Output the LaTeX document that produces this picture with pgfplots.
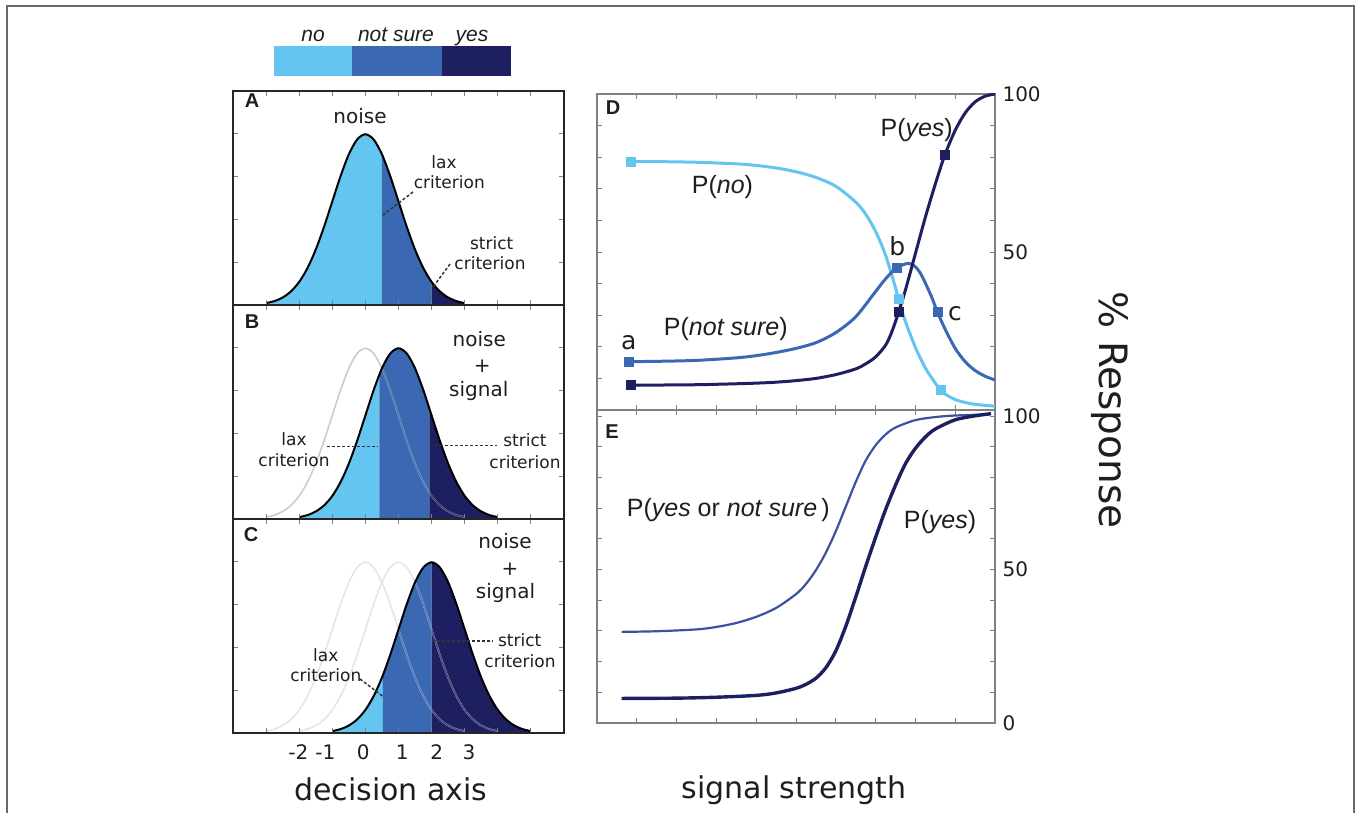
\documentclass[border=0pt]{standalone}
\usepackage{fontspec}
\setmainfont{DejaVu Sans}
\newfontfamily\helv{Liberation Sans}
\usepackage{pgfplots}
\usepackage{pgfplotstable}
\pgfplotsset{compat=1.18}
\usepgfplotslibrary{fillbetween}

\definecolor{cno}{RGB}{100,197,240}
\definecolor{cns}{RGB}{58,104,178}
\definecolor{cyes}{RGB}{30,31,96}
\definecolor{cmidE}{RGB}{62,80,160}
\definecolor{framec}{RGB}{105,105,105}
\definecolor{txt}{RGB}{30,30,30}
\newcommand\fs[1]{\fontsize{#1}{#1}\selectfont}

% standard normal density (x in decision units)
\pgfplotstableread{
x y
-3.00 0.00443
-2.75 0.00909
-2.50 0.01753
-2.25 0.03174
-2.00 0.05399
-1.75 0.08628
-1.50 0.12952
-1.25 0.18265
-1.00 0.24197
-0.75 0.30114
-0.50 0.35207
-0.25 0.38667
0.00 0.39894
0.25 0.38667
0.50 0.35207
0.75 0.30114
1.00 0.24197
1.25 0.18265
1.50 0.12952
1.75 0.08628
2.00 0.05399
2.25 0.03174
2.50 0.01753
2.75 0.00909
3.00 0.00443
}\gauss

\pgfplotstableread{
x y
0.85 78.6
1.5 78.6
2.5 78.4
3.5 77.9
4.0 77.4
4.5 76.6
5.0 75.4
5.5 73.6
6.0 70.8
6.5 65.8
6.75 62
7.0 56.5
7.25 49
7.5 38.7
7.57 35.3
7.75 28
8.0 19.8
8.25 13.3
8.5 8.5
8.63 6.3
8.75 5.0
9.0 3.3
9.25 2.4
9.5 1.8
10 1.2
}\Dno

\pgfplotstableread{
x y
0.79 15.3
1.5 15.4
2.5 15.7
3.5 16.5
4.0 17.2
4.5 18.2
5.0 19.5
5.5 21.3
6.0 24.5
6.5 29.5
7.0 37.5
7.25 41.5
7.53 45
7.8 46.4
7.9 46.2
8.0 45.3
8.1 43.8
8.2 41.5
8.4 36
8.55 31.1
8.75 25.5
9.0 19.5
9.25 15.3
9.5 12.5
9.75 10.7
10 9.5
}\Dns

\pgfplotstableread{
x y
0.85 7.9
1.5 7.9
2.5 8.0
3.5 8.3
4.0 8.5
4.5 8.8
5.0 9.3
5.5 10.0
6.0 11.2
6.5 13.0
6.75 14.6
7.0 16.8
7.25 20.5
7.4 24.5
7.58 31
7.75 38
8.0 49.5
8.25 61
8.5 71.5
8.74 80.7
9.0 88.5
9.25 94
9.5 97.5
9.75 99.3
10 100
}\Dyes

\pgfplotstableread{
x y
0.62 29.7
1.5 29.9
2.5 30.5
3.0 31.3
3.5 32.6
4.0 34.6
4.5 37.5
5.0 42
5.25 45.3
5.5 49.8
5.75 55.5
6.0 62.5
6.25 70.5
6.5 78.5
6.75 85.5
7.0 90.5
7.25 94
7.5 96.3
8.0 98.7
8.5 99.7
9.0 100.2
9.87 100.6
}\Eyn

\pgfplotstableread{
x y
0.62 8.0
2 8.1
3 8.4
4 9.0
4.5 9.8
5.0 11.3
5.25 12.6
5.5 14.6
5.75 18
6.0 23.5
6.25 31.5
6.5 41
6.75 51
7.0 60.5
7.25 69.5
7.5 77.5
7.75 84.5
8.0 89.5
8.25 93.2
8.5 95.8
9.0 98.8
9.5 100.1
9.9 100.8
}\Eyes

\pgfplotsset{
  gpanel/.style={anchor=south west, scale only axis, width=331pt, height=214pt,
    xmin=-4, xmax=6, ymin=0, ymax=0.5,
    xtick={-3,...,5}, ytick={0.1,0.2,0.3,0.4},
    xticklabels={}, yticklabels={},
    tick align=inside, major tick length=5pt,
    tick style={black!50, line width=0.9pt},
    axis line style={black!85, line width=1.6pt},
    axis on top},
  rpanel/.style={anchor=south west, scale only axis, width=398pt,
    xmin=0, xmax=10, ymin=0,
    xtick={1,...,9}, xticklabels={},
    yticklabel pos=right, ytick pos=both, xtick pos=both,
    tick align=inside, major tick length=5pt,
    tick style={black!50, line width=0.9pt},
    axis line style={black!50, line width=1.3pt},
    /pgf/number format/assume math mode=true,
    yticklabel style={font=\fs{20}, text=txt, xshift=4pt}},
}

\begin{document}
\begin{tikzpicture}
\begin{scope}[x=1pt,y=-1pt]
\path[use as bounding box] (0,0) rectangle (1360,813);
\draw[framec, line width=2.5pt] (7,813) -- (7,6) -- (1354,6) -- (1354,813);
\end{scope}

% ---------- Panel A ----------
\begin{axis}[gpanel, at={(233pt,-305pt)}]
\addplot[draw=none, smooth, name path=g] table[x=x,y=y]{\gauss};
\addplot[draw=none, name path=b] coordinates {(-3,0) (3,0)};
\addplot[fill=cno, draw=none] fill between[of=g and b, soft clip={domain=-4:0.5}];
\addplot[fill=cns, draw=none] fill between[of=g and b, soft clip={domain=0.5:2.0}];
\addplot[fill=cyes, draw=none] fill between[of=g and b, soft clip={domain=2.0:6}];
\addplot[black, line width=2pt, smooth] table[x=x,y=y]{\gauss};
\end{axis}

% ---------- Panel B ----------
\begin{axis}[gpanel, at={(233pt,-519pt)}]
\addplot[gray!40, line width=1.6pt, smooth] table[x=x,y=y]{\gauss};
\addplot[draw=none, smooth, name path=g] table[x expr=\thisrow{x}+1,y=y]{\gauss};
\addplot[draw=none, name path=b] coordinates {(-2,0) (4,0)};
\addplot[fill=cno, draw=none] fill between[of=g and b, soft clip={domain=-4:0.42}];
\addplot[fill=cns, draw=none] fill between[of=g and b, soft clip={domain=0.42:1.93}];
\addplot[fill=cyes, draw=none] fill between[of=g and b, soft clip={domain=1.93:6}];
\begin{scope}
\clip (axis cs:0.5,0) rectangle (axis cs:1.93,0.5);
\addplot[cns!88!white, line width=1.4pt, smooth] table[x=x,y=y]{\gauss};
\end{scope}
\begin{scope}
\clip (axis cs:1.93,0) rectangle (axis cs:6,0.5);
\addplot[cyes!85!white, line width=1.4pt, smooth] table[x=x,y=y]{\gauss};
\end{scope}
\addplot[black, line width=2pt, smooth] table[x expr=\thisrow{x}+1,y=y]{\gauss};
\end{axis}

% ---------- Panel C ----------
\begin{axis}[gpanel, at={(233pt,-733pt)}]
\addplot[gray!20, line width=1.6pt, smooth] table[x=x,y=y]{\gauss};
\addplot[gray!20, line width=1.6pt, smooth] table[x expr=\thisrow{x}+1,y=y]{\gauss};
\addplot[draw=none, smooth, name path=g] table[x expr=\thisrow{x}+2,y=y]{\gauss};
\addplot[draw=none, name path=b] coordinates {(-1,0) (5,0)};
\addplot[fill=cno, draw=none] fill between[of=g and b, soft clip={domain=-4:0.53}];
\addplot[fill=cns, draw=none] fill between[of=g and b, soft clip={domain=0.53:2.0}];
\addplot[fill=cyes, draw=none] fill between[of=g and b, soft clip={domain=2.0:6}];
\begin{scope}
\clip (axis cs:1.0,0) rectangle (axis cs:2.0,0.5);
\addplot[cns!88!white, line width=1.4pt, smooth] table[x=x,y=y]{\gauss};
\end{scope}
\begin{scope}
\clip (axis cs:1.5,0) rectangle (axis cs:2.0,0.5);
\addplot[cns!88!white, line width=1.4pt, smooth] table[x expr=\thisrow{x}+1,y=y]{\gauss};
\end{scope}
\begin{scope}
\clip (axis cs:2.0,0) rectangle (axis cs:6,0.5);
\addplot[cyes!82!white, line width=1.4pt, smooth] table[x=x,y=y]{\gauss};
\addplot[cyes!82!white, line width=1.4pt, smooth] table[x expr=\thisrow{x}+1,y=y]{\gauss};
\end{scope}
\addplot[black, line width=2pt, smooth] table[x expr=\thisrow{x}+2,y=y]{\gauss};
\end{axis}

% ---------- Panel D ----------
\begin{axis}[rpanel, at={(597pt,-410pt)}, height=316pt, ymax=100,
  ytick={10,20,...,100}, yticklabels={,,,,50,,,,,100}]
\addplot[cno, line width=3pt, smooth] table[x=x,y=y]{\Dno};
\addplot[cns, line width=3pt, smooth] table[x=x,y=y]{\Dns};
\addplot[cyes, line width=3pt, smooth] table[x=x,y=y]{\Dyes};
\addplot[only marks, mark=square*, mark size=4.5pt, mark options={fill=cno, draw=cno}] coordinates {(0.85,78.6) (7.57,35.3) (8.63,6.3)};
\addplot[only marks, mark=square*, mark size=4.5pt, mark options={fill=cns, draw=cns}] coordinates {(0.79,15.3) (7.53,45) (8.55,31.1)};
\addplot[only marks, mark=square*, mark size=4.5pt, mark options={fill=cyes, draw=cyes}] coordinates {(0.85,7.9) (7.58,31) (8.74,80.7)};
\end{axis}

% ---------- Panel E ----------
\begin{axis}[rpanel, at={(597pt,-723pt)}, height=313pt, ymax=102,
  ytick={0,10,...,100}, yticklabels={0,,,,,50,,,,,100}]
\addplot[cmidE, line width=2.2pt, smooth] table[x=x,y=y]{\Eyn};
\addplot[cyes, line width=3.4pt, smooth] table[x=x,y=y]{\Eyes};
\end{axis}

% ---------- annotations ----------
\begin{scope}[x=1pt,y=-1pt, every node/.style={text=txt, inner sep=0pt}]
% legend bar
\fill[cno] (274,46) rectangle (352,76);
\fill[cns] (352,46) rectangle (442,76);
\fill[cyes] (442,46) rectangle (511,76);
\node[anchor=base, font=\helv\itshape\fs{21}] at (313,42) {no};
\node[anchor=base, font=\helv\itshape\fs{21}] at (396,42) {not sure};
\node[anchor=base, font=\helv\itshape\fs{21}] at (472,42) {yes};

% panel letters
\node[font=\helv\bfseries\fs{20}] at (252,101) {A};
\node[font=\helv\bfseries\fs{20}] at (252,322) {B};
\node[font=\helv\bfseries\fs{20}] at (251,535) {C};
\node[font=\helv\bfseries\fs{20}] at (613,108) {D};
\node[font=\helv\bfseries\fs{20}] at (612,432) {E};

% panel A
\node[anchor=base, font=\fs{20}] at (360,124) {noise};
\node[anchor=base, font=\fs{17}] at (444,168.3) {lax};
\node[anchor=base, font=\fs{17}] at (449.3,188.3) {criterion};
\node[anchor=base, font=\fs{17}] at (491.7,250) {strict};
\node[anchor=base, font=\fs{17}] at (490,269.3) {criterion};
\draw[black!80, line width=1.5pt, dash pattern=on 3pt off 2pt] (413,192) -- (383,215);
\draw[black!80, line width=1.5pt, dash pattern=on 3pt off 2pt] (450,264) -- (433,287);

% panel B
\node[anchor=base, font=\fs{20}] at (479.3,346.7) {noise};
\node[font=\fs{20}] at (482.3,366) {+};
\node[anchor=base, font=\fs{20}] at (478.8,396.7) {signal};
\node[anchor=base, font=\fs{17}] at (294,445.7) {lax};
\node[anchor=base, font=\fs{17}] at (294,466.7) {criterion};
\node[anchor=base, font=\fs{17}] at (525,446.7) {strict};
\node[anchor=base, font=\fs{17}] at (525,468.3) {criterion};
\draw[black!80, line width=1.5pt, dash pattern=on 3pt off 2pt] (327,446.5) -- (378,446.5);
\draw[black!80, line width=1.5pt, dash pattern=on 3pt off 2pt] (430,445.7) -- (497,445.7);

% panel C
\node[anchor=base, font=\fs{20}] at (505,548.3) {noise};
\node[font=\fs{20}] at (510,569.3) {+};
\node[anchor=base, font=\fs{20}] at (505.5,598.3) {signal};
\node[anchor=base, font=\fs{17}] at (325.8,661.7) {lax};
\node[anchor=base, font=\fs{17}] at (325.8,681.7) {criterion};
\node[anchor=base, font=\fs{17}] at (519.7,646.7) {strict};
\node[anchor=base, font=\fs{17}] at (520,667.3) {criterion};
\draw[black!80, line width=1.5pt, dash pattern=on 3pt off 2pt] (360,679) -- (383.3,696.7);
\draw[black!80, line width=1.5pt, dash pattern=on 3pt off 2pt] (432.3,641) -- (493.3,641);

% decision axis numbers
\node[anchor=base, font=\fs{20}] at (298.3,759) {-2};
\node[anchor=base, font=\fs{20}] at (325.3,759) {-1};
\node[anchor=base, font=\fs{20}] at (363.3,759) {0};
\node[anchor=base, font=\fs{20}] at (402.3,759) {1};
\node[anchor=base, font=\fs{20}] at (436.7,759) {2};
\node[anchor=base, font=\fs{20}] at (469,759) {3};
\node[anchor=base, font=\fs{30}] at (390.7,800) {decision axis};

% panel D labels
\node[anchor=base, font=\helv\fs{25}] at (916.7,136.7) {P(\textit{yes})};
\node[anchor=base, font=\helv\fs{25}] at (722.5,194) {P(\textit{no})};
\node[anchor=base, font=\helv\fs{25}] at (725.8,335) {P(\textit{not sure})};
\node[anchor=base, font=\fs{25}] at (897.3,255.7) {b};
\node[anchor=base, font=\fs{25}] at (955,320.7) {c};
\node[anchor=base, font=\fs{25}] at (628.7,349.3) {a};

% panel E labels
\node[anchor=base, font=\helv\fs{25}] at (728.3,516.7) {P(\textit{yes} or \textit{not sure}\,)};
\node[anchor=base, font=\helv\fs{25}] at (940,528.3) {P(\textit{yes})};
\node[anchor=base, font=\fs{30}] at (794,798.3) {signal strength};

% right axis title
\node[font=\fs{39}, rotate=-90] at (1110,410) {\% Response};
\end{scope}
\end{tikzpicture}
\end{document}
